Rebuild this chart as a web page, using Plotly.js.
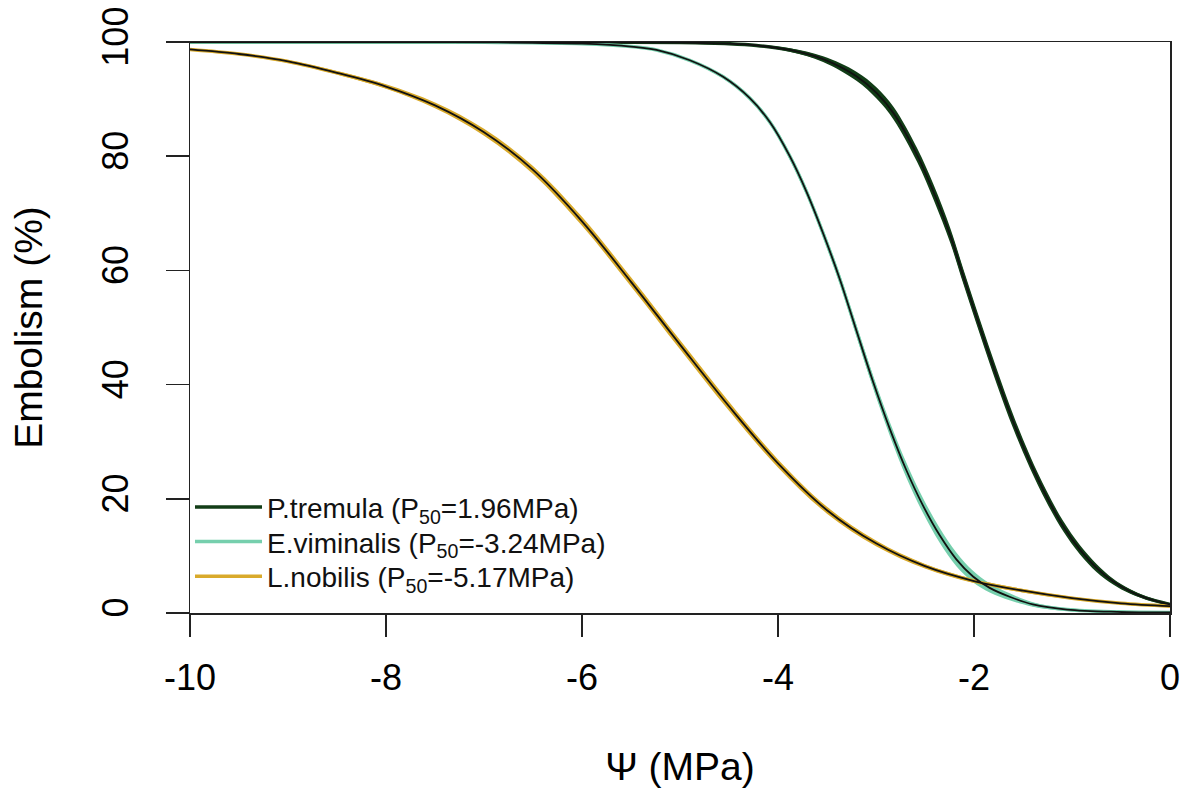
<!DOCTYPE html>
<html><head><meta charset="utf-8">
<script src="https://cdn.plot.ly/plotly-3.0.1.min.js"></script>
<style>html,body{margin:0;padding:0;background:#fff}#chart{width:1189px;height:800px}</style>
</head><body><div id="chart"></div>
<script>
// ---- data ----
const legendNames = [
  "P.tremula (P<sub>50</sub>=1.96MPa)",
  "E.viminalis (P<sub>50</sub>=-3.24MPa)",
  "L.nobilis (P<sub>50</sub>=-5.17MPa)"
];
const seriesColors = ["#123d17", "#76cfad", "#d9aa2b"];

// P. tremula
const tremulaPsi = [-10, -6, -5, -4.5, -4.22, -3.88, -3.54, -3.2, -2.99, -2.82, -2.58, -2.41, -2.24, -2.11, -1.94, -1.77, -1.6, -1.43, -1.26, -1.09, -0.92, -0.75, -0.58, -0.41, -0.24, 0];
const tremulaPLC = [100, 99.99, 99.9, 99.7, 99.4, 98.6, 97.0, 94.0, 91.0, 87.5, 80.2, 73.6, 66.0, 59.0, 50.1, 41.5, 33.5, 26.5, 20.4, 15.2, 11.1, 7.9, 5.5, 3.8, 2.6, 1.5];
const tremulaCI = [0, 0, 0.03, 0.08, 0.15, 0.3, 0.5, 0.8, 1.0, 1.1, 1.2, 1.3, 1.3, 1.3, 1.3, 1.3, 1.2, 1.1, 1.0, 0.9, 0.8, 0.7, 0.5, 0.4, 0.3, 0.25];

// E. viminalis
const viminalisPsi = [-10, -8, -7, -6, -5.5, -5.24, -4.9, -4.56, -4.29, -4.08, -3.88, -3.71, -3.54, -3.37, -3.21, -3.03, -2.86, -2.69, -2.52, -2.35, -2.18, -2.01, -1.84, -1.63, -1.4, -1.05, -0.54, 0];
const viminalisPLC = [100, 99.99, 99.95, 99.7, 99.2, 98.6, 96.8, 93.9, 90.2, 85.9, 80.0, 73.8, 66.5, 58.5, 50.0, 40.5, 32.3, 25.0, 18.8, 13.6, 9.4, 6.4, 4.4, 2.8, 1.5, 0.6, 0.2, 0.1];
const viminalisCI = [0, 0, 0.02, 0.05, 0.08, 0.12, 0.2, 0.3, 0.4, 0.5, 0.6, 0.7, 0.8, 0.9, 1.0, 1.1, 1.2, 1.3, 1.3, 1.3, 1.2, 1.0, 0.8, 0.6, 0.4, 0.25, 0.1, 0.05];

// L. nobilis
const nobilisPsi = [-10, -9.5, -9, -8.5, -8, -7.5, -7, -6.5, -6, -5.5, -5, -4.5, -4, -3.5, -3, -2.5, -2, -1.5, -1, -0.5, 0];
const nobilisPLC = [98.7, 97.9, 96.6, 94.6, 92.2, 88.9, 84.2, 77.6, 68.6, 58.0, 47.0, 36.2, 26.2, 18.0, 12.2, 8.2, 5.6, 3.9, 2.6, 1.7, 1.2];
const nobilisCI = [0.15, 0.2, 0.25, 0.3, 0.4, 0.5, 0.6, 0.7, 0.8, 0.8, 0.8, 0.8, 0.7, 0.6, 0.5, 0.4, 0.35, 0.3, 0.25, 0.2, 0.15];

const xTickVals = [-10, -8, -6, -4, -2, 0];
const xTickText = ["-10", "-8", "-6", "-4", "-2", "0"];
const yTickVals = [0, 20, 40, 60, 80, 100];
const yTickText = ["0", "20", "40", "60", "80", "100"];
const xTitle = "Ψ (MPa)";
const yTitle = "Embolism (%)";

// ---- build traces ----
const series = [
  {x: tremulaPsi, y: tremulaPLC, ci: tremulaCI},
  {x: viminalisPsi, y: viminalisPLC, ci: viminalisCI},
  {x: nobilisPsi, y: nobilisPLC, ci: nobilisCI}
];
const legendIds = ["legend", "legend2", "legend3"];
const bandOrder = [2, 1, 0];
const shapeOpts = {shape: "spline", smoothing: 1};
const traces = [];
bandOrder.forEach(i => {
  const s = series[i];
  traces.push({x: s.x, y: s.y.map((v, k) => v - s.ci[k]), mode: "lines",
    line: Object.assign({width: 0}, shapeOpts), hoverinfo: "skip", showlegend: false});
  traces.push({x: s.x, y: s.y.map((v, k) => v + s.ci[k]), mode: "lines", fill: "tonexty",
    fillcolor: seriesColors[i], line: Object.assign({width: 0}, shapeOpts),
    hoverinfo: "skip", showlegend: false});
});
[0, 1, 2].forEach(i => {
  const s = series[i];
  traces.push({x: s.x, y: s.y, mode: "lines", name: legendNames[i], legend: legendIds[i],
    line: Object.assign({color: seriesColors[i], width: 3.5}, shapeOpts)});
});
bandOrder.forEach(i => {
  const s = series[i];
  traces.push({x: s.x, y: s.y, mode: "lines", showlegend: false,
    line: Object.assign({color: "#111111", width: 1.8}, shapeOpts)});
});

const font = "Liberation Sans, Arial, Helvetica, sans-serif";
function legendAt(yc) {
  return {x: 0.0, y: yc, xanchor: "left", yanchor: "middle", bgcolor: "rgba(0,0,0,0)",
    font: {size: 28, family: font, color: "#111"}, itemwidth: 67};
}
const layout = {
  width: 1189, height: 800,
  margin: {l: 190, r: 19, t: 42, b: 187},
  paper_bgcolor: "#ffffff", plot_bgcolor: "#ffffff",
  font: {family: font, color: "#000000", size: 36},
  showlegend: true,
  legend: legendAt(0.185),
  legend2: legendAt(0.1245),
  legend3: legendAt(0.064),
  xaxis: {range: [-10, 0], tickvals: xTickVals, ticktext: xTickText, ticks: "outside",
    ticklen: 22, tickwidth: 1.5, tickcolor: "#222", showline: true, linecolor: "#222", linewidth: 1.5,
    mirror: true, showgrid: false, zeroline: false, tickfont: {size: 36}, ticklabelstandoff: 10,
    title: {text: xTitle, font: {size: 39}, standoff: 56}, automargin: false},
  yaxis: {range: [0, 100], tickvals: yTickVals, ticktext: yTickText, ticks: "outside",
    ticklen: 23, tickwidth: 1.5, tickcolor: "#222", showline: true, linecolor: "#222", linewidth: 1.5,
    mirror: true, showgrid: false, zeroline: false, tickangle: -90, tickfont: {size: 36},
    ticklabelstandoff: 23,
    title: {text: yTitle, font: {size: 39}, standoff: 40}, automargin: false}
};
Plotly.newPlot("chart", traces, layout, {displayModeBar: false, staticPlot: true});
</script>
</body></html>
